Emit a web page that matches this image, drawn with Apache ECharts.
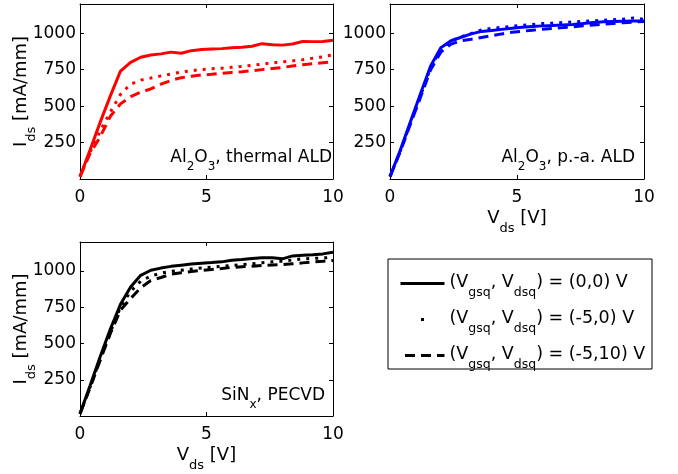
<!DOCTYPE html>
<html><head><meta charset="utf-8">
<script src="https://cdn.jsdelivr.net/npm/echarts@6/dist/echarts.min.js"></script>
<style>html,body{margin:0;padding:0;background:#fff}#c{width:678px;height:474px}</style>
</head><body><div id="c"></div>
<script>
// ---- data ----
const vds = [0,0.4,0.8,1.2,1.6,2.0,2.4,2.8,3.2,3.6,4.0,4.4,4.8,5.2,5.6,6.0,6.4,6.8,7.2,7.6,8.0,8.4,8.8,9.2,9.6,10];
const xTicks = [0,5,10];
const yTicks = [250,500,750,1000];

// Al2O3 thermal ALD (red)
const thermal_00  = [16,200,390,570,740,800,835,850,858,870,862,880,888,891,894,900,903,910,928,920,918,926,943,942,943,952];
const thermal_50  = [16,185,330,460,580,650,678,692,707,720,733,743,750,756,760,766,772,780,788,796,804,810,818,828,838,852];
const thermal_510 = [16,175,290,430,515,565,595,618,650,676,695,705,713,718,724,731,736,742,750,758,765,775,784,790,797,804];
// Al2O3 plasma-assisted ALD (blue)
const pa_00  = [16,195,390,585,775,900,948,972,995,1012,1018,1026,1034,1040,1045,1050,1052,1056,1060,1066,1073,1078,1080,1082,1083,1084];
const pa_50  = [16,190,380,570,765,890,945,975,998,1022,1033,1040,1047,1053,1060,1066,1069,1073,1077,1081,1085,1088,1092,1097,1104,1095];
const pa_510 = [16,185,375,560,750,870,925,948,958,970,982,995,1006,1013,1020,1027,1033,1038,1044,1050,1056,1062,1067,1072,1076,1080];
// SiNx PECVD (black)
const sin_00  = [16,210,410,600,770,890,970,1005,1020,1032,1040,1048,1054,1058,1063,1074,1080,1087,1091,1092,1084,1104,1108,1112,1118,1130];
const sin_50  = [16,200,395,580,750,860,930,965,985,998,1005,1013,1021,1027,1033,1039,1043,1050,1057,1063,1068,1076,1084,1087,1090,1095];
const sin_510 = [16,195,385,570,730,810,885,935,955,978,988,996,1004,1010,1017,1025,1029,1033,1038,1041,1044,1050,1056,1062,1067,1073];

const quiescent = [[0,0],[-5,0],[-5,10]];
const legendNames = ['(Vgsq, Vdsq) = (0,0) V','(Vgsq, Vdsq) = (-5,0) V','(Vgsq, Vdsq) = (-5,10) V'];
const panelLabels = ['Al{s|2}O{s|3}, thermal ALD','Al{s|2}O{s|3}, p.-a. ALD','SiN{s|x}, PECVD'];

// ---- styles ----
const FONT = 'DejaVu Sans';
const subRich = {s:{fontFamily:FONT,fontSize:12,lineHeight:12,padding:[12,0,0,0],verticalAlign:'top',color:'#000'},
                 m:{fontFamily:FONT,fontSize:17,lineHeight:20,verticalAlign:'top',color:'#000'}};
const nameRich = {s:{fontFamily:FONT,fontSize:13,lineHeight:13,padding:[13,0,0,0],verticalAlign:'top',color:'#000'},
                 m:{fontFamily:FONT,fontSize:18,lineHeight:21,verticalAlign:'top',color:'#000'}};
const legRich = {s:{fontFamily:FONT,fontSize:12.5,lineHeight:13,padding:[13,0,0,0],verticalAlign:'top',color:'#000'},
                 m:{fontFamily:FONT,fontSize:17.5,lineHeight:21,verticalAlign:'top',color:'#000'}};
const dotType = [3,6];
const dashType = [10,6];
const styles = [{type:'solid'},{type:dotType},{type:dashType}];

const grids = [
  {left:80, top:4, width:253, height:175},
  {left:390, top:4, width:254, height:175},
  {left:80, top:242, width:253, height:174}
];
const xAxes = [], yAxes = [];
const showXName = [false,true,true], showYName = [true,false,true];
grids.forEach((g,i)=>{
  xAxes.push({type:'value',gridIndex:i,min:0,max:10,interval:5,position:'bottom',
    axisLine:{show:true,onZero:false,lineStyle:{color:'#000',width:1}},
    axisTick:{inside:true,length:4,lineStyle:{color:'#000'}},
    axisLabel:{fontFamily:FONT,fontSize:17,color:'#000',margin:10,
      formatter:v=>xTicks.includes(v)?String(v):''},
    splitLine:{show:false},
    name: showXName[i]?'{m|V}{s|ds}{m| [V]}':'', nameLocation:'middle', nameGap:30, nameMoveOverlap:false,
    nameTextStyle:{fontFamily:FONT,fontSize:18,color:'#000',rich:nameRich}});
  xAxes.push({type:'value',gridIndex:i,min:0,max:10,interval:5,position:'top',
    axisLine:{show:true,onZero:false,lineStyle:{color:'#000',width:1}},
    axisTick:{inside:true,length:4,lineStyle:{color:'#000'}},
    axisLabel:{show:false},splitLine:{show:false}});
  yAxes.push({type:'value',gridIndex:i,min:0,max:1200,interval:250,position:'left',
    axisLine:{show:true,onZero:false,lineStyle:{color:'#000',width:1}},
    axisTick:{inside:true,length:4,lineStyle:{color:'#000'}},
    axisLabel:{fontFamily:FONT,fontSize:17,color:'#000',margin:4,
      formatter:v=>yTicks.includes(v)?String(v):''},
    splitLine:{show:false},
    name: showYName[i]?'{m|I}{s|ds}{m| [mA/mm]}':'', nameLocation:'middle', nameGap:47, nameMoveOverlap:false,
    nameTextStyle:{fontFamily:FONT,fontSize:18,color:'#000',rich:nameRich}});
  yAxes.push({type:'value',gridIndex:i,min:0,max:1200,interval:250,position:'right',
    axisLine:{show:true,onZero:false,lineStyle:{color:'#000',width:1}},
    axisTick:{inside:true,length:4,lineStyle:{color:'#000'}},
    axisLabel:{show:false},splitLine:{show:false}});
});

const panels = [
  {color:'#ff0000', data:[thermal_00,thermal_50,thermal_510], names:['t0','t1','t2']},
  {color:'#0000ff', data:[pa_00,pa_50,pa_510], names:['p0','p1','p2']},
  {color:'#000000', data:[sin_00,sin_50,sin_510], names:legendNames}
];
const series = [];
panels.forEach((p,i)=>{
  p.data.forEach((arr,k)=>{
    series.push({type:'line',name:p.names[k],xAxisIndex:2*i,yAxisIndex:2*i,
      data:vds.map((v,j)=>[v,arr[j]]),symbol:'none',showSymbol:false,
      lineStyle:{color:p.color,width:3,type:styles[k].type,cap:'butt'},
      itemStyle:{color:p.color},animation:false,z:3-k});
  });
});

const labelPos = [{right:346,top:149},{right:43,top:149},{right:353,top:387}];
const graphics = panelLabels.map((t,i)=>({type:'text',right:labelPos[i].right,top:labelPos[i].top,z:10,
  style:{text:t.replace(/^([^{]+)/,'{m|$1}').replace(/\}([^{]+)/g,'}{m|$1}'),fill:'#000',font:'17px '+FONT,rich:subRich}}));
graphics.push({type:'rect',shape:{x:388,y:259,width:264,height:110},style:{fill:'none',stroke:'#000',lineWidth:1},z:1});

const chart = echarts.init(document.getElementById('c'),null,{renderer:'canvas'});
chart.setOption({
  animation:false,
  backgroundColor:'#fff',
  grid:grids,
  xAxis:xAxes,
  yAxis:yAxes,
  series:series,
  graphic:graphics,
  legend:{orient:'vertical',left:399,top:273,padding:0,itemWidth:44,itemHeight:14,itemGap:10,selectedMode:false,z:5,
    itemStyle:{color:'rgba(0,0,0,0)',borderColor:'rgba(0,0,0,0)',borderWidth:0},
    lineStyle:{width:3},
    data:[
      {name:legendNames[0]},
      {name:legendNames[1],lineStyle:{width:3,type:[3,100],dashOffset:-20.5}},
      {name:legendNames[2]}
    ],
    textStyle:{fontFamily:FONT,fontSize:17.5,color:'#000',rich:legRich},
    formatter:name=>{const q=quiescent[legendNames.indexOf(name)];
      return '{m|(V}{s|gsq}{m|, V}{s|dsq}{m|) = ('+q[0]+','+q[1]+') V}';}
  }
});
</script></body></html>
